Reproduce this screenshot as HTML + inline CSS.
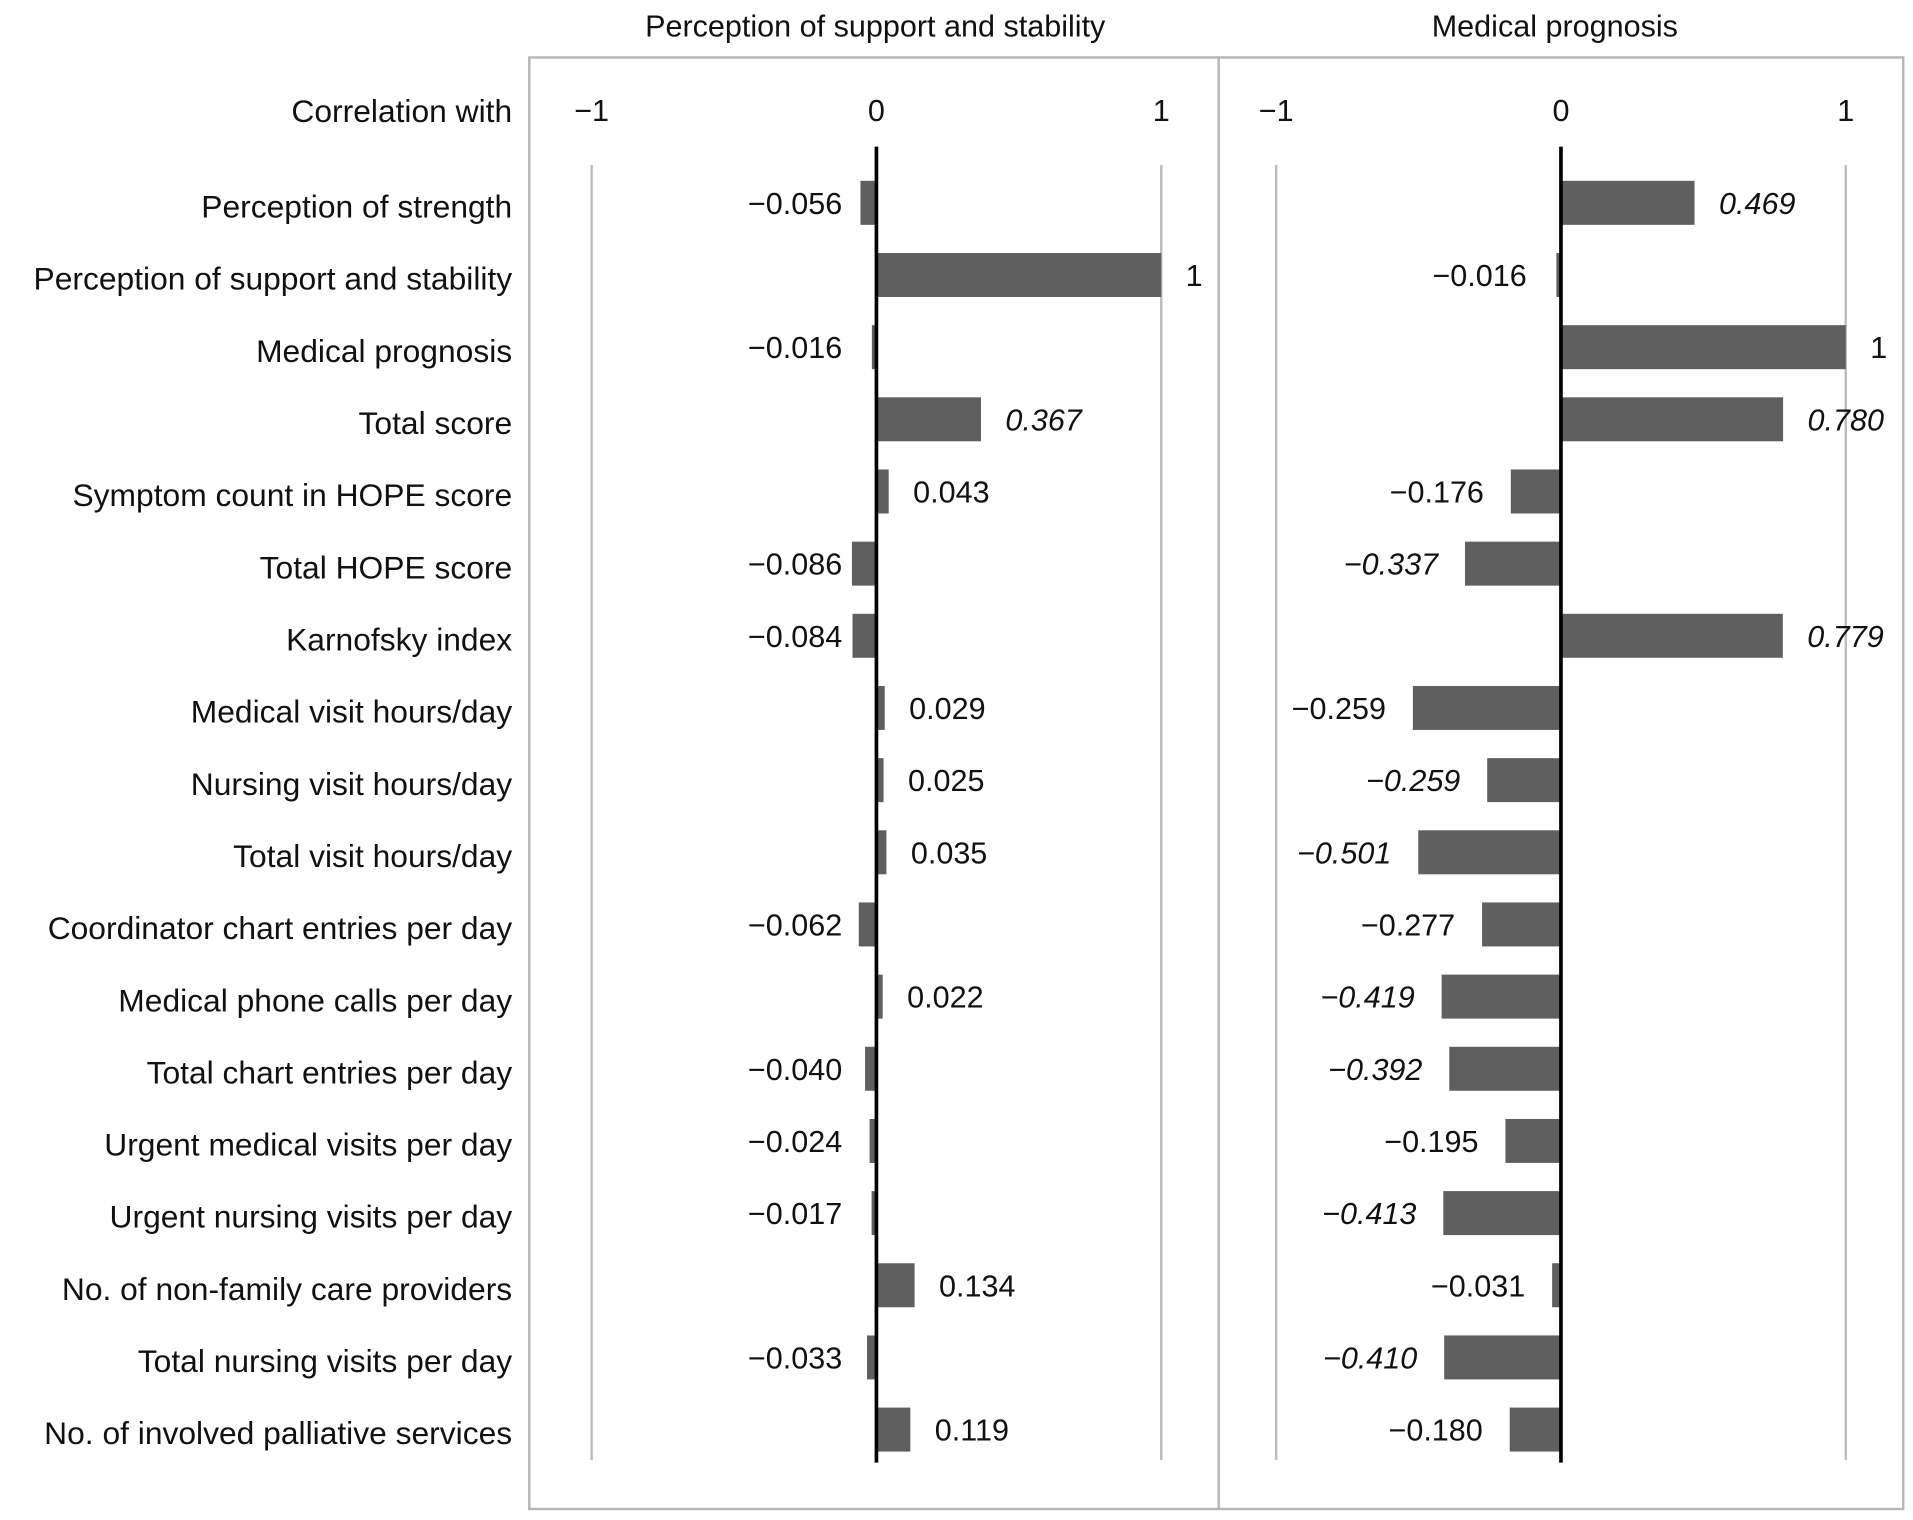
<!DOCTYPE html>
<html><head><meta charset="utf-8"><style>
html,body{margin:0;padding:0;background:#fff;}
svg{display:block;font-family:"Liberation Sans",sans-serif;}
</style></head><body>
<svg id="chart" width="1913" height="1520" viewBox="0 0 1565 1244" preserveAspectRatio="none" xmlns="http://www.w3.org/2000/svg">
<rect x="433" y="47" width="1124" height="1188" fill="none" stroke="#b8b8b8" stroke-width="2"/>
<line x1="997" y1="47" x2="997" y2="1235" stroke="#b8b8b8" stroke-width="2"/>
<text x="716" y="30" font-size="25" text-anchor="middle" fill="#111">Perception of support and stability</text>
<text x="1272" y="30" font-size="25" text-anchor="middle" fill="#111">Medical prognosis</text>
<text x="419" y="100" font-size="26" text-anchor="end" fill="#111">Correlation with</text>
<g id="g"></g>
</svg>
<script>
const categories=["Perception of strength","Perception of support and stability","Medical prognosis","Total score","Symptom count in HOPE score","Total HOPE score","Karnofsky index","Medical visit hours/day","Nursing visit hours/day","Total visit hours/day","Coordinator chart entries per day","Medical phone calls per day","Total chart entries per day","Urgent medical visits per day","Urgent nursing visits per day","No. of non-family care providers","Total nursing visits per day","No. of involved palliative services"];
const supportValues=[-0.056,1,-0.016,0.367,0.043,-0.086,-0.084,0.029,0.025,0.035,-0.062,0.022,-0.040,-0.024,-0.017,0.134,-0.033,0.119];
const supportLabels=["−0.056","1","−0.016","0.367","0.043","−0.086","−0.084","0.029","0.025","0.035","−0.062","0.022","−0.040","−0.024","−0.017","0.134","−0.033","0.119"];
const supportItalic=[0,0,0,1,0,0,0,0,0,0,0,0,0,0,0,0,0,0];
const prognosisValues=[0.469,-0.016,1,0.780,-0.176,-0.337,0.779,-0.52,-0.259,-0.501,-0.277,-0.419,-0.392,-0.195,-0.413,-0.031,-0.410,-0.180];
const prognosisLabels=["0.469","−0.016","1","0.780","−0.176","−0.337","0.779","−0.259","−0.259","−0.501","−0.277","−0.419","−0.392","−0.195","−0.413","−0.031","−0.410","−0.180"];
const prognosisItalic=[1,0,0,1,0,1,1,0,1,1,0,1,1,0,1,0,1,0];
const tickValues=[-1,0,1];
const tickLabels=["−1","0","1"];

const NS="http://www.w3.org/2000/svg";
const g=document.getElementById('g');
function el(t,a){const e=document.createElementNS(NS,t);for(const k in a)e.setAttribute(k,a[k]);g.appendChild(e);return e;}
const rowY=i=>166+i*(1170-166)/(categories.length-1);
const BH=36;
categories.forEach((c,i)=>{
  const t=el('text',{x:419,y:rowY(i)+12,'font-size':26,'text-anchor':'end',fill:'#111'});
  t.textContent=c;
  
  
});
function panel(zero,vals,labels,ital,name,negGap,fixedNeg){
  const x=v=>zero+v*233;
  tickValues.forEach((v,k)=>{
    const t=el('text',{x:x(v),y:99,'font-size':25,'text-anchor':'middle',fill:'#111'});
    t.textContent=tickLabels[k];
    
    
    if(v!==0){const l=el('line',{x1:x(v),y1:135,x2:x(v),y2:1195,stroke:'#bdbdbd','stroke-width':2});
      
      }
  });
  vals.forEach((v,i)=>{
    const y=rowY(i);
    const r=el('rect',{x:Math.min(x(0),x(v)),y:y-BH/2,width:Math.abs(x(v)-x(0)),height:BH,fill:'#5f5f5f'});
    
    
    let tx,anchor;
    if(v>=0){tx=x(v)+20;anchor='start';}
    else{tx=fixedNeg?zero-28:Math.min(x(v)-negGap,zero-28);anchor='end';}
    const t=el('text',{x:tx,y:y+9,'font-size':25,'text-anchor':anchor,fill:'#111','font-style':ital[i]?'italic':'normal'});
    t.textContent=labels[i];
    
    
  });
  const a=el('line',{x1:zero,y1:120,x2:zero,y2:1197,stroke:'#000','stroke-width':3});
  
  
}
panel(717,supportValues,supportLabels,supportItalic,'support-panel',28,true);
panel(1277,prognosisValues,prognosisLabels,prognosisItalic,'prognosis-panel',22,false);
</script>
</body></html>
